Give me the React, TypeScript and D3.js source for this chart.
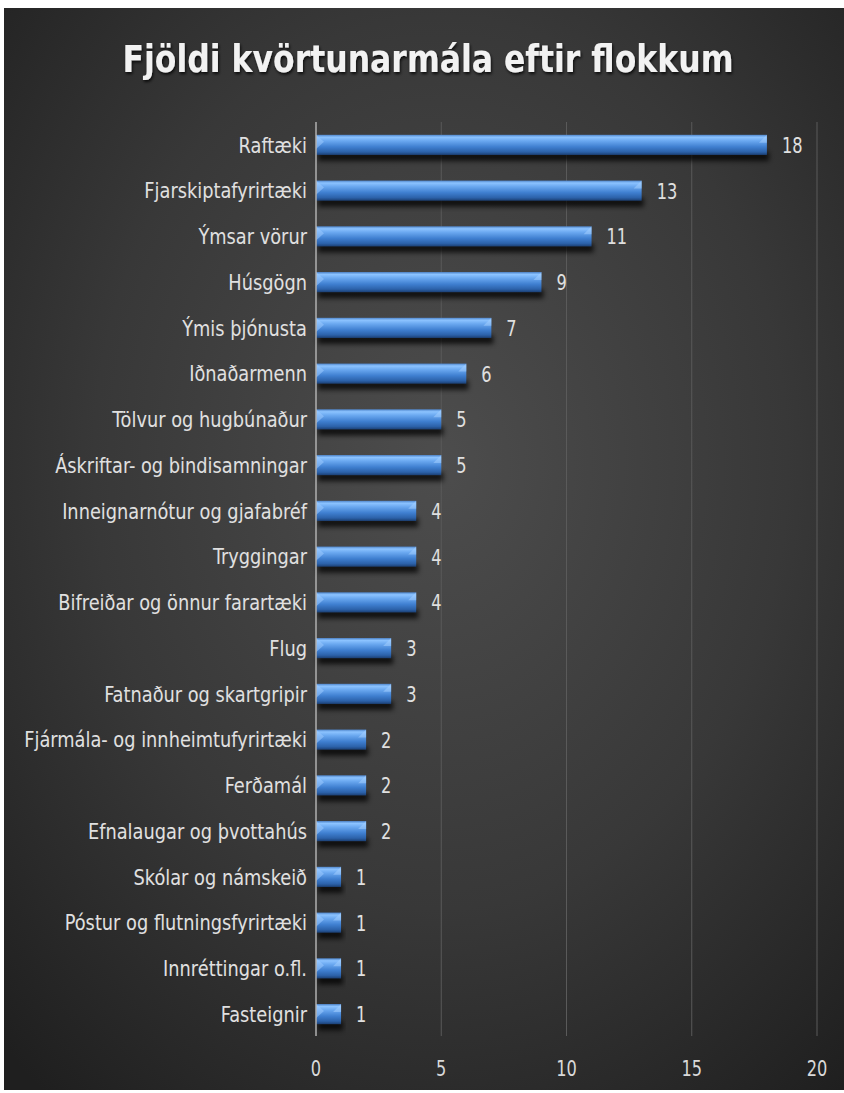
import React from "react";
import * as d3 from "d3";

const categories = [
  "Raftæki",
  "Fjarskiptafyrirtæki",
  "Ýmsar vörur",
  "Húsgögn",
  "Ýmis þjónusta",
  "Iðnaðarmenn",
  "Tölvur og hugbúnaður",
  "Áskriftar- og bindisamningar",
  "Inneignarnótur og gjafabréf",
  "Tryggingar",
  "Bifreiðar og önnur farartæki",
  "Flug",
  "Fatnaður og skartgripir",
  "Fjármála- og innheimtufyrirtæki",
  "Ferðamál",
  "Efnalaugar og þvottahús",
  "Skólar og námskeið",
  "Póstur og flutningsfyrirtæki",
  "Innréttingar o.fl.",
  "Fasteignir",
];
const values = [18, 13, 11, 9, 7, 6, 5, 5, 4, 4, 4, 3, 3, 2, 2, 2, 1, 1, 1, 1];
const xTicks = [0, 5, 10, 15, 20];
const title = "Fjöldi kvörtunarmála eftir flokkum";

const W = 844;
const H = 1093;
const FONT = "'DejaVu Sans Condensed', 'Liberation Sans Narrow', 'Open Sans', sans-serif";
const SX = 0.92;

export default function App() {
  const x = d3.scaleLinear().domain([0, 20]).range([316, 817]);
  const y = d3.scaleBand<string>().domain(categories).range([122, 1037]).paddingInner(0.56).paddingOuter(0.28);
  const bh = y.bandwidth();
  return (
    <svg width={W} height={H} style={{ position: "absolute", left: 0, top: 0 }}>
      <defs>
        <radialGradient id="bg" cx="0.52" cy="0.42" r="0.75">
          <stop offset="0" stopColor="#4d4d4d" />
          <stop offset="0.55" stopColor="#383838" />
          <stop offset="1" stopColor="#1f1f1f" />
        </radialGradient>
        <linearGradient id="bar" x1="0" y1="0" x2="0" y2="1">
          <stop offset="0" stopColor="#4f86cc" />
          <stop offset="0.12" stopColor="#8cc3ff" />
          <stop offset="0.3" stopColor="#6aa8f0" />
          <stop offset="0.6" stopColor="#3f7fd0" />
          <stop offset="0.85" stopColor="#2c62aa" />
          <stop offset="1" stopColor="#1b3f73" />
        </linearGradient>
        <filter id="shadow" x="-10%" y="-50%" width="120%" height="220%">
          <feGaussianBlur stdDeviation="2.5" />
        </filter>
        <filter id="tshadow" x="-5%" y="-30%" width="110%" height="160%">
          <feDropShadow dx="1" dy="2" stdDeviation="1.5" floodColor="#000" floodOpacity="0.8" />
        </filter>
      </defs>
      <rect x={4} y={8} width={840} height={1082} fill="url(#bg)" />
      <text
        x={428}
        y={72}
        textAnchor="middle"
        fill="#f2f2f2"
        fontFamily="'DejaVu Sans Condensed', 'DejaVu Sans', sans-serif"
        fontWeight="bold"
        fontSize={37}
        textLength={611}
        lengthAdjust="spacingAndGlyphs"
        filter="url(#tshadow)"
      >
        {title}
      </text>
      {xTicks.slice(1).map((t) => (
        <line key={"g" + t} x1={x(t)} x2={x(t)} y1={122} y2={1036} stroke="#5a5a5a" strokeWidth={1} />
      ))}
      {categories.map((c, i) => {
        const y0 = y(c)!;
        const x1 = x(values[i]);
        const cy = y0 + bh / 2;
        return (
          <g key={c}>
            <rect x={x(0) + 2} y={y0 + bh - 3} width={x1 - x(0)} height={9} fill="#000" opacity={0.75} filter="url(#shadow)" />
            <rect x={x(0)} y={y0} width={x1 - x(0)} height={bh} fill="url(#bar)" />
            <path
              d={`M${x(0)},${y0} L${x(0) + 8},${y0 + bh * 0.35} L${x(0)},${y0 + bh * 0.7} Z`}
              fill="#9ccaff"
              opacity={0.55}
            />
            <path
              d={`M${x1},${y0} L${x1 - 8},${y0 + bh * 0.4} L${x1},${y0 + bh * 0.4} Z`}
              fill="#a8d2ff"
              opacity={0.5}
            />
            <text
              transform={`translate(307,${cy}) scale(${SX},1)`}
              dy="0.36em"
              textAnchor="end"
              fill="#e0e0e0"
              fontFamily={FONT}
              fontSize={21.5}
            >
              {c}
            </text>
            <text
              transform={`translate(${x1 + 15},${cy}) scale(0.82,1)`}
              dy="0.36em"
              fill="#e0e0e0"
              fontFamily={FONT}
              fontSize={22}
            >
              {values[i]}
            </text>
          </g>
        );
      })}
      <line x1={x(0)} x2={x(0)} y1={122} y2={1036} stroke="#b0b0b0" strokeWidth={1.5} />
      {xTicks.map((t) => (
        <text
          key={"t" + t}
          transform={`translate(${x(t)},1068) scale(0.82,1)`}
          dy="0.36em"
          textAnchor="middle"
          fill="#d9d9d9"
          fontFamily={FONT}
          fontSize={22}
        >
          {t}
        </text>
      ))}
    </svg>
  );
}
